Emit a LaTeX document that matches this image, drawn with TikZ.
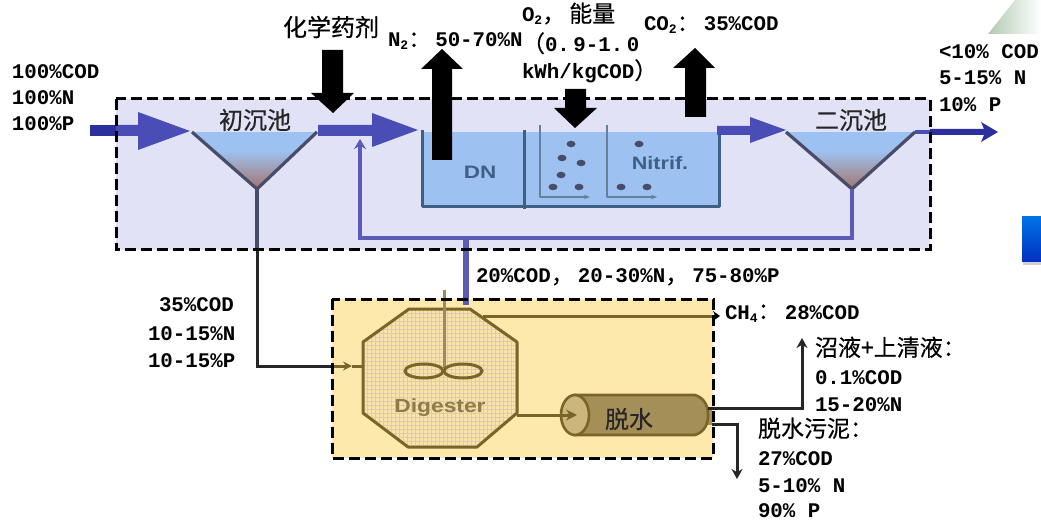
\documentclass[tikz,border=0pt]{standalone}
\usepackage{fontspec}
\setmainfont{Liberation Mono Bold}
\newfontfamily\cjkf[FakeBold=0.5]{Noto Sans CJK SC}
\newfontfamily\sansf{Liberation Sans Bold}
\usetikzlibrary{arrows.meta,shapes.geometric}
\definecolor{lav}{HTML}{E1E2F5}
\definecolor{sand}{HTML}{FDE9AB}
\definecolor{octa}{HTML}{FBE3A8}
\definecolor{wat}{HTML}{9DC1F0}
\definecolor{flow}{HTML}{4A4DB5}
\definecolor{flowd}{HTML}{2C2F9E}
\definecolor{rec}{HTML}{5B5BB5}
\definecolor{tankl}{HTML}{3F5F85}
\definecolor{setl}{HTML}{484C68}
\definecolor{brn}{HTML}{7A6428}
\definecolor{mud}{HTML}{A58F58}
\definecolor{mudl}{HTML}{CBB67E}
\definecolor{sludge}{HTML}{A5766F}
\newcommand{\zh}[1]{{\cjkf\fontsize{24}{24}\selectfont #1}}
\newcommand{\zs}[1]{{\cjkf\fontsize{23}{23}\selectfont #1}}
\newcommand{\zc}[1]{\makebox[27pt][l]{\zs{#1}}}
\newcommand{\low}[1]{\raisebox{-3pt}{\fontsize{13}{13}\selectfont #1}}
\tikzset{
 x=1pt,y=-1pt,
 txt/.style={anchor=base west,inner sep=0pt,outer sep=0pt,font=\fontsize{20.8}{20.8}\selectfont,text=black},
 zhlab/.style={inner sep=0pt,outer sep=0pt,text=black!85},
 dashbox/.style={draw=black,line width=3pt,dash pattern=on 11pt off 5pt},
 bigarrow/.style={fill=black,draw=none},
 tank/.style={draw=tankl,line width=3pt,line join=round},
 thintank/.style={draw=tankl!80,line width=2.4pt,line join=round},
 settler/.style={draw=setl,line width=3.2pt,line join=round},
 flowarrow/.style={fill=flow,draw=none},
 brnline/.style={draw=brn,line width=3pt},
 blk/.style={draw=black!85,line width=3pt},
 dot/.style={ellipse,fill=setl,draw=none,minimum width=9pt,minimum height=6.5pt,inner sep=0pt},
}
\newcommand{\settlefill}[3]{%
 \begin{scope}
 \clip (#1,132) -- (#3,132) -- (#2,189) -- cycle;
 \foreach \i in {0,...,28}{
   \pgfmathtruncatemacro{\pct}{\i<9?0:(100*(\i-9)/19)}
   \fill[sludge!\pct!wat] (#1,132+2*\i) rectangle (#3,134.5+2*\i);
 }
 \end{scope}}
\begin{document}
\begin{tikzpicture}
\useasboundingbox (0,0) rectangle (1041,521);
\fill[white] (0,0) rectangle (1041,521);
% faint background pieces at the right edge
\shade[left color=green!30!black!30!white,right color=white] (988,34) -- (1015,0) -- (1041,0) -- (1041,34) -- cycle;
\fill[black!18] (1023,219) rectangle (1041,265);
\shade[top color=blue!50!cyan!90!black,bottom color=blue!75!cyan!75!black] (1022,217) rectangle (1041,262);
% process area boxes
\node[draw=none,fill=lav,minimum width=814pt,minimum height=151pt,inner sep=0pt,anchor=north west] (procbox) at (116,99) {};
\node[draw=none,fill=sand,minimum width=381pt,minimum height=159pt,inner sep=0pt,anchor=north west] (digbox) at (332,299) {};
% tanks
\fill[wat] (422,132) rectangle (719,207);
\settlefill{192}{257}{317}
\settlefill{786}{852}{915}
\draw[tank] (422,130) -- (422,207) -- (719,207) -- (719,130);
\draw[tank] (524,130) -- (524,209);
\coordinate (ba) at (590,197); \coordinate (bb) at (657,197);
\draw[thintank,-{Stealth[length=6pt]}] (540,125) -- (540,197) -- (ba);
\draw[thintank,-{Stealth[length=6pt]}] (607,125) -- (607,197) -- (bb);
\foreach \p in {(571,144),(562,158),(581,163),(561,175),(553,187),(579,187),(639,144),(621,187),(647,187)}
  \node[dot] at \p {};
\node[text=tankl,font=\sansf\fontsize{18}{18}\selectfont,inner sep=0pt,xscale=1.25] (dn) at (480,172) {DN};
\node[text=tankl,font=\sansf\fontsize{18}{18}\selectfont,inner sep=0pt,xscale=1.2] (nit) at (660,163) {Nitrif.};
% settlers
\coordinate (p1) at (192,132); \coordinate (p2) at (257,189); \coordinate (p3) at (317,132);
\coordinate (s1) at (786,132); \coordinate (s2) at (852,189); \coordinate (s3) at (915,132);
\draw[settler] (p1) -- (p2) -- (p3);
\draw[settler] (s1) -- (s2) -- (s3);
% recycle
\coordinate (r1) at (852,238); \coordinate (r2) at (360,238); \coordinate (r3) at (360,139);
\coordinate (w1) at (466,238); \coordinate (w2) at (466,305);
\draw[rec,line width=3.4pt,-{Stealth[length=10pt,width=12pt]}] (s2) -- (r1) -- (r2) -- (r3);
\draw[rec,line width=6pt] (w1) -- (w2);
% flow arrows
\fill[flowd] (90,125) rectangle (116,136);
\fill[flowarrow] (116,125) -- (138,125) -- (138,112) -- (190,131) -- (138,150) -- (138,136) -- (116,136) -- cycle;
\fill[flowarrow] (318,125) -- (372,125) -- (372,113) -- (418,130) -- (372,147) -- (372,136) -- (318,136) -- cycle;
\fill[flowarrow] (717,135) -- (717,126) -- (750,126) -- (750,117) -- (786,130) -- (750,143) -- (750,135) -- cycle;
\draw[flow,line width=4pt] (s3) -- (930,132);
\fill[flowd] (930,129) -- (984,129) -- (981,122) -- (998,132) -- (981,142) -- (984,135) -- (930,135) -- cycle;
% digester
\path[fill=octa,draw=none] (409,309) -- (470,309) -- (517,342) -- (517,413) -- (477,447) -- (408,447) -- (363,413) -- (363,342) -- cycle;
\begin{scope}
\clip (409,309) -- (470,309) -- (517,342) -- (517,413) -- (477,447) -- (408,447) -- (363,413) -- (363,342) -- cycle;
\foreach \v in {363,367,...,517} \draw[mud!45,line width=.5pt] (\v,309) -- (\v,447);
\foreach \v in {309,313,...,447} \draw[mud!45,line width=.5pt] (363,\v) -- (517,\v);
\end{scope}
\path[draw=brn,line width=3pt,line join=round] (409,309) -- (470,309) -- (517,342) -- (517,413) -- (477,447) -- (408,447) -- (363,413) -- (363,342) -- cycle;
\draw[brnline,draw=brn!75!white] (444,290) -- (444,368);
\draw[brnline] (424,371) ellipse [x radius=19pt,y radius=7pt];
\draw[brnline] (463,371) ellipse [x radius=19pt,y radius=7pt];
\node[text=brn!85,font=\sansf\fontsize{19}{19}\selectfont,inner sep=0pt,xscale=1.2] (dig) at (440,408) {Digester};
% dewatering
\fill[mud] (703,407) rectangle (712,425);
\path[fill=mud,draw=brn,line width=2.6pt] (575,395) -- (695,395) .. controls (704,398) and (708,405) .. (708,415) .. controls (708,425) and (704,432) .. (695,435) -- (575,435) -- cycle;
\draw[draw=brn,line width=2.6pt,fill=mudl] (575,415) ellipse [x radius=14pt,y radius=20pt];
\node[zhlab] (dw) at (629,419) {\zh{脱水}};
\coordinate (d1) at (517,415); \coordinate (d2) at (577,415);
\draw[brnline,-{Stealth[length=11pt,width=11pt]}] (d1) -- (d2);
\coordinate (ch1) at (483,316); \coordinate (ch2) at (713,316); \coordinate (ch3) at (720,316);
\draw[brnline] (ch1) -- (ch2);
\draw[black,line width=2.4pt,-{Stealth[length=7pt,width=10pt]}] (ch2) -- (ch3);
% outgoing black lines
\coordinate (o1) at (708,408); \coordinate (o2) at (802,408); \coordinate (o3) at (802,338);
\coordinate (u1) at (712,424); \coordinate (u2) at (737,424); \coordinate (u3) at (737,479);
\draw[blk,-{Stealth[length=10pt,width=11pt]}] (o1) -- (o2) -- (o3);
\draw[blk,-{Stealth[length=10pt,width=11pt]}] (u1) -- (u2) -- (u3);
\coordinate (i1) at (257,250); \coordinate (i2) at (257,366); \coordinate (i3) at (332,366); \coordinate (i4) at (363,366);
\draw[setl,line width=3.2pt] (p2) -- (i1);
\draw[blk] (i1) -- (i2) -- (i3);
\draw[brnline,-{Stealth[length=9pt,width=9pt]}] (i3) -- (352,366);
\draw[brnline] (352,366) -- (i4);
% dashed outlines
\draw[dashbox] (116,99) rectangle (930,250);
\draw[dashbox] (332,299) rectangle (713,458);
% big black arrows
\fill[bigarrow] (322,50) -- (343,50) -- (343,93) -- (354,93) -- (333,113) -- (311,93) -- (322,93) -- cycle;
\fill[bigarrow] (432,160) -- (452,160) -- (452,69) -- (463,69) -- (442,49) -- (421,69) -- (432,69) -- cycle;
\fill[bigarrow] (565,89) -- (586,89) -- (586,108) -- (597,108) -- (575,128) -- (554,108) -- (565,108) -- cycle;
\fill[bigarrow] (685,117) -- (706,117) -- (706,68) -- (715,68) -- (695,48) -- (673,68) -- (685,68) -- cycle;
% labels
\node[zhlab] (l1) at (255,120) {\zh{初沉池}};
\node[zhlab] (l2) at (851,120) {\zh{二沉池}};
\node[zhlab,text=black] (chem) at (331,27) {\zh{化学药剂}};
\node[txt] (a1) at (12,79) {100\%COD};
\node[txt] (a2) at (12,105) {100\%N};
\node[txt] (a3) at (12,131) {100\%P};
\node[txt] (n2) at (388,47) {N\low{2}\zc{：}50-70\%N};
\node[txt] (o2a) at (522,22) {O\low{2}\zc{，}\zs{能量}};
\node[txt] (o2b) at (522,52) {\zs{（}0.\,9-1.\,0};
\node[txt] (o2c) at (522,79) {kWh/kgCOD\zs{）}};
\node[txt] (co2) at (644,31) {CO\low{2}\zc{：}35\%COD};
\node[txt] (e1) at (939,59) {<10\% COD};
\node[txt] (e2) at (939,85) {5-15\% N};
\node[txt] (e3) at (939,112) {10\% P};
\node[txt] (ret) at (476,283) {20\%COD\zc{，}20-30\%N\zc{，}75-80\%P};
\node[txt] (b1) at (159,311) {35\%COD};
\node[txt] (b2) at (148,340) {10-15\%N};
\node[txt] (b3) at (148,367) {10-15\%P};
\node[txt] (ch4) at (725,319) {CH\low{4}\zc{：}28\%COD};
\node[txt] (c1) at (815,356) {\zs{沼液+上清液：}};
\node[txt] (c2) at (815,384) {0.1\%COD};
\node[txt] (c3) at (815,411) {15-20\%N};
\node[txt] (f1) at (758,437) {\zs{脱水污泥：}};
\node[txt] (f2) at (758,465) {27\%COD};
\node[txt] (f3) at (758,492) {5-10\% N};
\node[txt] (f4) at (758,517) {90\% P};
\end{tikzpicture}
\end{document}
